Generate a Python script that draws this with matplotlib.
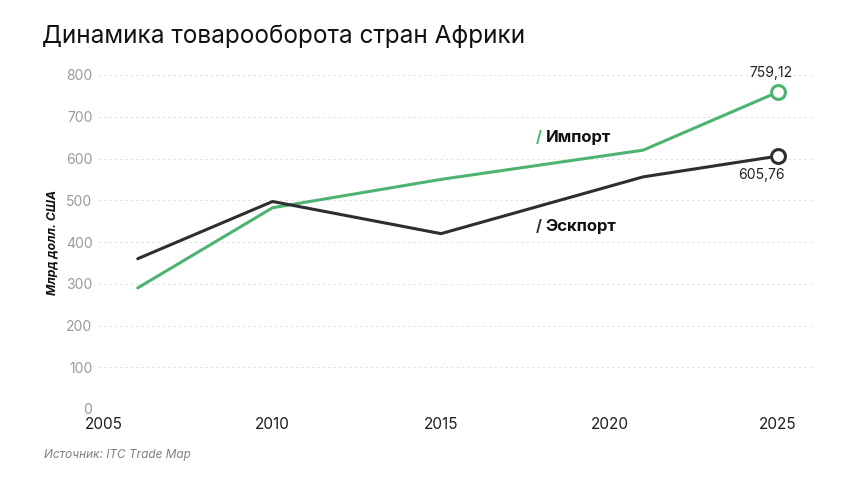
import matplotlib
matplotlib.use("Agg")
import matplotlib.pyplot as plt

years = [2006, 2010, 2015, 2021, 2025]
export_vals = [360, 497, 420, 556, 605.76]
import_vals = [290, 482, 550, 620, 759.12]
x_ticks = [2005, 2010, 2015, 2020, 2025]
y_ticks = [0, 100, 200, 300, 400, 500, 600, 700, 800]

title = "Динамика товарооборота стран Африки"
ylabel = "Млрд долл. США"
source = "Источник: ITC Trade Map"
import_name = "Импорт"
export_name = "Эскпорт"

GREEN = "#4cb470"
DARK = "#2e2e2e"

plt.rcParams['font.family'] = ['Inter', 'DejaVu Sans']

fig = plt.figure(figsize=(8.6, 4.84), dpi=100)
ax = fig.add_axes([98/860, 1 - 409/484, (815-98)/860, (409-75)/484])

ax.plot(years, import_vals, color=GREEN, lw=2.2, solid_capstyle='round', zorder=3)
ax.plot(years, export_vals, color=DARK, lw=2.2, solid_capstyle='round', zorder=3)
ax.plot(years[-1], import_vals[-1], 'o', ms=10, mfc='white', mec=GREEN, mew=2.2, zorder=4, clip_on=False)
ax.plot(years[-1], export_vals[-1], 'o', ms=10, mfc='white', mec=DARK, mew=2.2, zorder=4, clip_on=False)

ax.set_xlim(2004.82, 2026.1)
ax.set_ylim(0, 800)
ax.set_yticks(y_ticks)
ax.set_xticks(x_ticks)
ax.set_yticklabels([str(v) for v in y_ticks], color="#9a9a9a", fontsize=10)
ax.set_xticklabels([str(v) for v in x_ticks], color="#1e1e1e", fontsize=11)
ax.tick_params(axis='both', length=0)
ax.tick_params(axis='y', pad=4)
ax.tick_params(axis='x', pad=6)
for s in ax.spines.values():
    s.set_visible(False)
ax.grid(axis='y', color="#e2e2e2", lw=0.7, ls=(0, (2.5, 3)))
ax.set_axisbelow(True)

ax.text(years[-1] - 0.2, import_vals[-1] + 30, f"{import_vals[-1]:.2f}".replace('.', ','),
        ha='center', va='bottom', fontsize=10, color="#222222")
ax.text(years[-1] - 0.5, export_vals[-1] - 28, f"{export_vals[-1]:.2f}".replace('.', ','),
        ha='center', va='top', fontsize=10, color="#222222")

ax.text(2017.9, 650, "/", color=GREEN, fontsize=11, fontweight='bold', ha='center', va='center')
ax.text(2018.1, 650, import_name, color="#111111", fontsize=12, fontweight='bold', ha='left', va='center')
ax.text(2017.9, 436, "/", color=DARK, fontsize=11, fontweight='bold', ha='center', va='center')
ax.text(2018.1, 436, export_name, color="#111111", fontsize=12, fontweight='bold', ha='left', va='center')

ax.set_ylabel(ylabel, fontsize=8.8, fontweight='bold', fontstyle='italic', color="#111111", labelpad=5)

fig.text(42/860, 1 - 36/484, title, fontsize=17.5, color="#111111", ha='left', va='center')
fig.text(44/860, 1 - 455/484, source, fontsize=8.5, fontstyle='italic', color="#808080", ha='left', va='center')

fig.savefig("out.png", dpi=100)
